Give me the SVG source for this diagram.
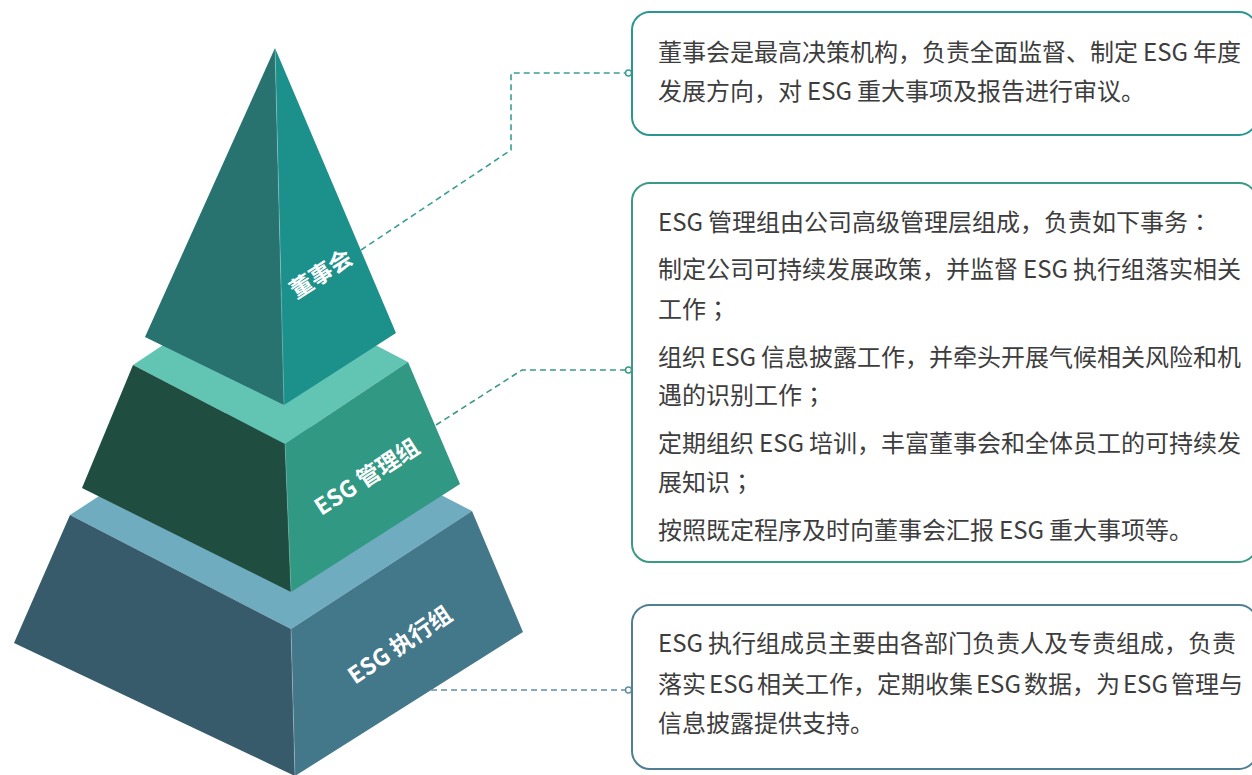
<svg xmlns="http://www.w3.org/2000/svg" width="1252" height="775" viewBox="0 0 1252 775">
<defs>
<style>
.box{fill:#ffffff;stroke-width:2}
.t{font-family:"Noto Sans CJK SC","Noto Sans",sans-serif;font-size:24px;fill:#3d3d3d}
.p{font-family:"Noto Sans CJK TC","Noto Sans CJK SC",sans-serif}
.lbl{font-family:"Noto Sans CJK SC","Noto Sans",sans-serif;font-weight:bold;fill:#ffffff;text-anchor:middle}
.dash{fill:none;stroke-width:1.6;stroke-dasharray:6 4}
.dot{fill:#ffffff;stroke-width:1.5}
.edge{fill:none;stroke:#ffffff;stroke-opacity:0.25;stroke-width:1}
</style>
</defs>
<rect width="1252" height="775" fill="#ffffff"/>

<g id="tier-bottom">
<polygon points="70,515 251,397 472,511 291,629" fill="#6facbf"/>
<polygon points="70,515 291,629 295,776 14,643" fill="#375b6a"/>
<polygon points="291,629 472,511 523,632 295,776" fill="#43778a"/>
<line class="edge" x1="291" y1="629" x2="295" y2="776"/>
<text class="lbl" font-size="23" transform="translate(400,645) rotate(-34)" y="8">ESG 执行组</text>
</g>

<g id="tier-middle">
<polygon points="133,365 256,283 408,362 285,444" fill="#62c5b3"/>
<polygon points="133,365 285,444 291,592 82,488" fill="#1f4d40"/>
<polygon points="285,444 408,362 460,484 291,592" fill="#319883"/>
<line class="edge" x1="285" y1="444" x2="291" y2="592"/>
<text class="lbl" font-size="23" transform="translate(367,477) rotate(-33)" y="8">ESG 管理组</text>
</g>

<g id="tier-top">
<polygon points="275,48 145,337 284,405" fill="#287270"/>
<polygon points="275,48 284,405 396,333" fill="#1c918b"/>
<line class="edge" x1="275" y1="48" x2="284" y2="405"/>
<text class="lbl" font-size="23" transform="translate(321,274) rotate(-33)" y="8">董事会</text>
</g>

<g id="connectors">
<polyline class="dash" stroke="#3a9e96" points="361,250 511,150 511,73 625,73"/>
<circle class="dot" stroke="#3a9e96" cx="628.5" cy="73" r="3"/>
<polyline class="dash" stroke="#3a9a85" points="436,425 522,370 625,370"/>
<circle class="dot" stroke="#3a9a85" cx="628.5" cy="370" r="3"/>
<polyline class="dash" stroke="#5f8fa0" points="431,690 625,690"/>
<circle class="dot" stroke="#5f8fa0" cx="628.5" cy="690" r="3"/>
</g>

<g id="box-board">
<rect class="box" x="632" y="12" width="625" height="123" rx="18" stroke="#2a9690"/>
<text class="t" x="658" y="61">董事会是最高决策机构，负责全面监督、制定<tspan dx="5">ESG</tspan><tspan dx="5">年度</tspan></text>
<text class="t" x="658" y="100">发展方向，对<tspan dx="5">ESG</tspan><tspan dx="5">重大事项及报告进行审议。</tspan></text>
</g>

<g id="box-management">
<rect class="box" x="632" y="183" width="625" height="379" rx="18" stroke="#3a9a85"/>
<text class="t" x="658" y="231">ESG<tspan dx="5">管理组由公司高级管理层组成，负责如下事务</tspan><tspan class="p">：</tspan></text>
<text class="t" x="658" y="278">制定公司可持续发展政策，并监督<tspan dx="5">ESG</tspan><tspan dx="5">执行组落实相关</tspan></text>
<text class="t" x="658" y="318">工作<tspan class="p">；</tspan></text>
<text class="t" x="658" y="366">组织<tspan dx="5">ESG</tspan><tspan dx="5">信息披露工作，并牵头开展气候相关风险和机</tspan></text>
<text class="t" x="658" y="404">遇的识别工作<tspan class="p">；</tspan></text>
<text class="t" x="658" y="452">定期组织<tspan dx="5">ESG</tspan><tspan dx="5">培训，丰富董事会和全体员工的可持续发</tspan></text>
<text class="t" x="658" y="491">展知识<tspan class="p">；</tspan></text>
<text class="t" x="658" y="539">按照既定程序及时向董事会汇报<tspan dx="5">ESG</tspan><tspan dx="5">重大事项等。</tspan></text>
</g>

<g id="box-execution">
<rect class="box" x="632" y="605" width="625" height="164" rx="18" stroke="#4f7f90"/>
<text class="t" x="658" y="652">ESG<tspan dx="5">执行组成员主要由各部门负责人及专责组成，负责</tspan></text>
<text class="t" x="658" y="693">落实<tspan dx="3">ESG</tspan><tspan dx="3">相关工作，定期收集</tspan><tspan dx="3">ESG</tspan><tspan dx="3">数据，为</tspan><tspan dx="3">ESG</tspan><tspan dx="3">管理与</tspan></text>
<text class="t" x="658" y="732">信息披露提供支持。</text>
</g>
</svg>
